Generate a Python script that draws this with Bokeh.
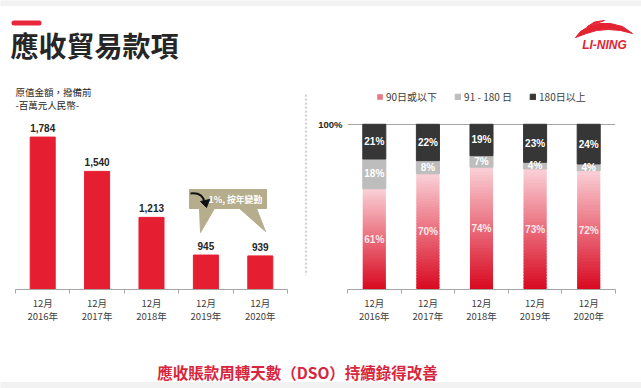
from bokeh.plotting import figure
from bokeh.models import Range1d, FixedTicker, Legend, LegendItem
from bokeh.layouts import column, row
from bokeh.core.properties import value
from bokeh.embed import file_html
from bokeh.resources import INLINE

# ---------------- data ----------------
years = ["2016", "2017", "2018", "2019", "2020"]
tick_labels = ["12月\n2016年", "12月\n2017年", "12月\n2018年", "12月\n2019年", "12月\n2020年"]
receivables = [1784, 1540, 1213, 945, 939]
receivable_labels = ["1,784", "1,540", "1,213", "945", "939"]
pct_90 = [61, 70, 74, 73, 72]
pct_91_180 = [18, 8, 7, 4, 4]
pct_180 = [21, 22, 19, 23, 24]
legend_labels = ["90日或以下", "91 - 180 日", "180日以上"]
title_text = "應收貿易款項"
subtitle_lines = ["原值金額，撥備前", "-百萬元人民幣-"]
callout_text = "1%, 按年變動"
footer_text = "應收賬款周轉天數（DSO）持續錄得改善"

CJK = "Noto Sans CJK TC"
LAT = "Liberation Sans"
centers = [i + 0.5 for i in range(len(years))]
bounds_ticks = list(range(len(years) + 1))


def base_fig(w, h, xr, yr, **kw):
    p = figure(width=w, height=h, x_range=xr, y_range=yr, output_backend="svg",
               toolbar_location=None, min_border=0, outline_line_color=None,
               background_fill_color="white", border_fill_color="white", **kw)
    p.grid.visible = False
    return p


def style_cat_axis(ax):
    ax.ticker = FixedTicker(ticks=centers, minor_ticks=bounds_ticks)
    ax.major_label_overrides = {c: t for c, t in zip(centers, tick_labels)}
    ax.axis_line_color = "#a6a6a6"
    ax.major_tick_line_color = None
    ax.major_tick_in = 0
    ax.major_tick_out = 4
    ax.minor_tick_line_color = "#a6a6a6"
    ax.minor_tick_in = 0
    ax.minor_tick_out = 4
    ax.major_label_text_font = CJK
    ax.major_label_text_font_size = "9.5px"
    ax.major_label_text_color = "#404040"
    ax.major_label_text_line_height = 0.95
    ax.major_label_standoff = 2


# ---------------- header ----------------
hdr = base_fig(641, 80, Range1d(0, 641), Range1d(80, 0),
               x_axis_location=None, y_axis_location=None)
hdr.quad(left=[0], right=[641], top=[0], bottom=[5], color="#f2f2f2")
hdr.segment(x0=[13.5], y0=[22.5], x1=[38.5], y1=[22.5], line_width=5,
            line_color="#e8263c", line_cap="round")
hdr.text(x=[10], y=[44], text=[title_text], text_font=value(CJK),
         text_font_size="28px", text_font_style="bold", text_color="#262626",
         text_baseline="middle", text_align="left")
# logo
hdr.patch(x=[575, 580, 588, 598, 610, 622, 632, 620, 608, 596, 586],
          y=[37, 31, 26, 23, 23, 26, 33, 30, 29, 30, 33], color="#e42332")
hdr.patch(x=[587, 594, 604, 597], y=[26, 21.5, 20, 22.5], color="#e42332")
hdr.text(x=[604], y=[44], text=["LI-NING"], text_font=value(LAT),
         text_font_size="12px", text_font_style="bold italic", text_color="#e42332",
         text_baseline="middle", text_align="center")

# ---------------- left chart ----------------
px_per_unit_left = 54.4
left = base_fig(304, 250,
                Range1d(-15 / px_per_unit_left, 5 + 17 / px_per_unit_left),
                Range1d(700, 700 + 209 / 0.1406),
                y_axis_location=None, min_border_bottom=41)
left.extra_x_ranges = {"ref": Range1d(0, 304)}
left.extra_y_ranges = {"ref": Range1d(289, 80)}
left.vbar(x=centers, top=receivables, bottom=700, width=0.46, color="#e61e32")
left.text(x=centers, y=receivables, text=receivable_labels, text_font=value(LAT),
          text_font_size="10px", text_font_style="bold", text_color="#262626",
          text_align="center", text_baseline="bottom", y_offset=-5)
style_cat_axis(left.xaxis[0])
left.xaxis[0].bounds = (0, 5)
left.text(x=[15, 15], y=[91, 104], text=subtitle_lines, text_font=value(CJK),
          text_font_size="9.5px", text_color="#262626", text_baseline="middle",
          x_range_name="ref", y_range_name="ref")
# callout bubble
left.patch(x=[189, 266, 266, 256, 265, 239, 214, 200, 199, 189],
           y=[189, 189, 208, 208, 231, 208, 208, 232, 208, 208],
           color="#b5ad8c", x_range_name="ref", y_range_name="ref")
left.bezier(x0=[190], y0=[193], x1=[204], y1=[202], cx0=[199], cy0=[192],
            cx1=[203], cy1=[196], line_width=2, line_color="#111111",
            x_range_name="ref", y_range_name="ref")
left.patch(x=[200, 209, 206], y=[201, 199, 207], color="#111111",
           x_range_name="ref", y_range_name="ref")
left.text(x=[208], y=[199], text=[callout_text], text_font=value(CJK),
          text_font_size="8.8px", text_font_style="bold", text_color="white",
          text_baseline="middle", x_range_name="ref", y_range_name="ref")

# ---------------- separator ----------------
sep = base_fig(3, 250, Range1d(0, 3), Range1d(330, 80),
               x_axis_location=None, y_axis_location=None)
sep.segment(x0=[1.5], y0=[97], x1=[1.5], y1=[313], line_color="#a0a0a0",
            line_dash="2 2", line_width=1)

# ---------------- right chart ----------------
right = base_fig(334, 250, Range1d(0, 5), Range1d(0, 1 + 44 / 166),
                 min_border_left=40, min_border_right=26, min_border_bottom=40)
style_cat_axis(right.xaxis[0])
ya = right.yaxis[0]
ya.ticker = FixedTicker(ticks=[1.0])
ya.major_label_overrides = {1: "100%"}
ya.axis_line_color = None
ya.major_tick_line_color = None
ya.major_tick_out = 0
ya.minor_tick_line_color = None
ya.major_label_text_font = LAT
ya.major_label_text_font_size = "9.5px"
ya.major_label_text_font_style = "bold"
ya.major_label_text_color = "#262626"
ya.major_label_standoff = 5
right.ygrid.visible = True
right.ygrid.ticker = FixedTicker(ticks=[1.0])
right.ygrid.grid_line_color = "#a6a6a6"
right.xgrid.visible = False

r_frac = [v / 100 for v in pct_90]
g_frac = [v / 100 for v in pct_91_180]
b_frac = [v / 100 for v in pct_180]
N = 40
c_bot = (216, 5, 29)
c_top = (250, 207, 213)
bands = []
for k in range(N):
    t = (k + 0.5) / N
    col = "#%02x%02x%02x" % tuple(int(round(c_bot[j] + (c_top[j] - c_bot[j]) * t)) for j in range(3))
    rr = right.vbar(x=centers, bottom=[r * max(k - 0.5, 0) / N for r in r_frac],
                    top=[r * (k + 1) / N for r in r_frac], width=0.43,
                    fill_color=col, line_color=None)
    bands.append(rr)
g_bottom = r_frac
g_top = [r + g for r, g in zip(r_frac, g_frac)]
b_top = [r + g + b for r, g, b in zip(r_frac, g_frac, b_frac)]
gray_r = right.vbar(x=centers, bottom=g_bottom, top=g_top, width=0.43,
                    color="#bdbdbd")
black_r = right.vbar(x=centers, bottom=g_top, top=b_top, width=0.43,
                     color="#363636")

lab_kw = dict(text_font=value(LAT), text_font_size="10px", text_font_style="bold",
              text_align="center", text_baseline="middle")
right.text(x=centers, y=[r / 2 for r in r_frac], text=["%d%%" % v for v in pct_90],
           text_color="#fde8eb", **lab_kw)
right.text(x=centers, y=[(a + b) / 2 for a, b in zip(g_bottom, g_top)],
           text=["%d%%" % v for v in pct_91_180], text_color="white", **lab_kw)
right.text(x=centers, y=[(a + b) / 2 for a, b in zip(g_top, b_top)],
           text=["%d%%" % v for v in pct_180], text_color="white", **lab_kw)

legend = Legend(items=[LegendItem(label=legend_labels[0], renderers=[bands[22]]),
                       LegendItem(label=legend_labels[1], renderers=[gray_r]),
                       LegendItem(label=legend_labels[2], renderers=[black_r])],
                orientation="horizontal", location=(29, 185))
legend.border_line_color = None
legend.background_fill_alpha = 0
legend.label_text_font = CJK
legend.label_text_font_size = "10px"
legend.label_text_color = "#404040"
legend.glyph_width = 7
legend.glyph_height = 7
legend.label_standoff = 3
legend.spacing = 17
legend.padding = 0
legend.margin = 0
legend.label_height = 12
right.add_layout(legend)

# ---------------- footer ----------------
ftr = base_fig(641, 58, Range1d(0, 641), Range1d(388, 330),
               x_axis_location=None, y_axis_location=None)
ftr.quad(left=[0], right=[641], top=[382], bottom=[388], color="#f2f2f2")
ftr.text(x=[297], y=[371], text=[footer_text], text_font=value(CJK),
         text_font_size="15.5px", text_font_style="bold", text_color="#d7263d",
         text_align="center", text_baseline="middle")

page = column(hdr, row(left, sep, right, spacing=0), ftr, spacing=0)
open("out.html", "w").write(file_html(page, INLINE))
